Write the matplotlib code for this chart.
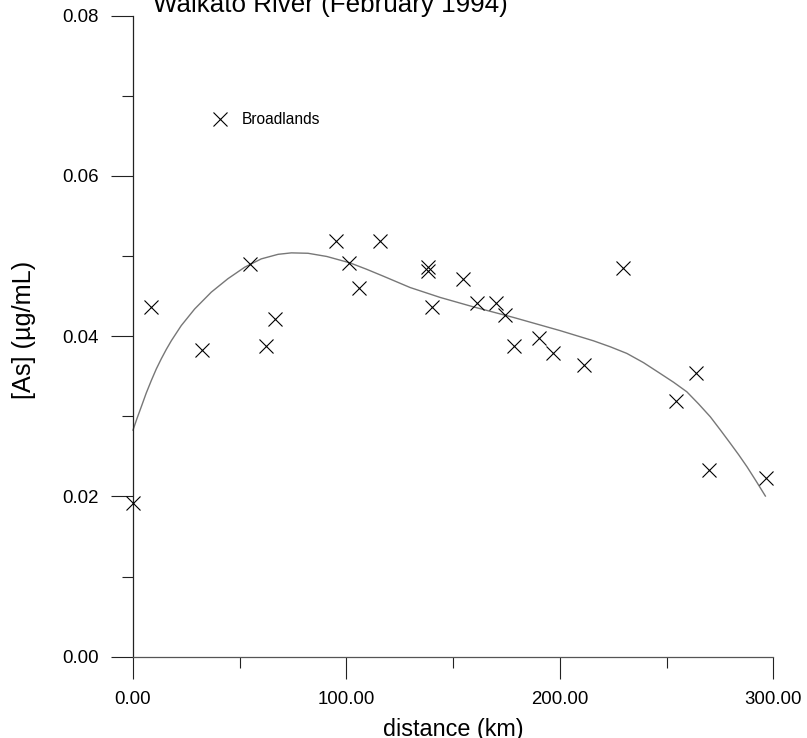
import matplotlib
matplotlib.use("Agg")
import matplotlib.pyplot as plt

plt.rcParams['font.family'] = ['Liberation Sans', 'DejaVu Sans']

# Sampling sites along the river: distance downstream (km) and arsenic concentration (ug/mL)
distance_km = [0.0, 8.4, 32.2, 54.8, 62.2, 66.4, 95.0, 101.1, 106.0, 115.9,
               138.0, 138.4, 140.3, 154.5, 161.1, 170.2, 174.1, 178.3, 190.3,
               197.0, 211.4, 229.4, 254.5, 263.8, 269.7, 296.6]
arsenic = [0.0192, 0.0436, 0.0383, 0.0490, 0.0388, 0.0422, 0.0519, 0.0491,
           0.0460, 0.0519, 0.0486, 0.0481, 0.0436, 0.0471, 0.0442, 0.0442,
           0.0427, 0.0388, 0.0398, 0.0379, 0.0364, 0.0485, 0.0319, 0.0354,
           0.0233, 0.0223]

# Smoothed trend line through the profile
trend_km = [0.0, 1.9, 3.9, 6.2, 8.6, 10.9, 13.3, 15.6, 18.0, 22.6, 28.9, 36.7,
            44.5, 52.4, 60.1, 68.0, 74.2, 82.0, 90.8, 101.7, 109.5, 117.3,
            129.8, 143.9, 159.5, 178.3, 200.2, 215.8, 223.6, 231.4, 239.2,
            247.0, 253.3, 259.5, 265.0, 270.5, 275.2, 279.9, 283.8, 287.7,
            292.0, 296.3]
trend_as = [0.02828, 0.02975, 0.03120, 0.03290, 0.03448, 0.03590, 0.03720,
            0.03835, 0.03945, 0.04132, 0.04340, 0.04550, 0.04718, 0.04862,
            0.04965, 0.05022, 0.05040, 0.05035, 0.04995, 0.04915, 0.04835,
            0.04749, 0.04608, 0.04484, 0.04366, 0.04234, 0.04069, 0.03942,
            0.03868, 0.03785, 0.03670, 0.03535, 0.03425, 0.03306, 0.03155,
            0.02994, 0.02830, 0.02662, 0.02520, 0.02370, 0.02190, 0.02005]

x_ticks = [0, 100, 200, 300]
x_minor = [50, 150, 250]
y_ticks = [0.00, 0.02, 0.04, 0.06, 0.08]
y_minor = [0.01, 0.03, 0.05, 0.07]

fig = plt.figure(figsize=(8.07, 7.38), dpi=100)
ax = fig.add_axes([0.1648, 0.1102, 0.9582 - 0.1648, 0.9787 - 0.1102])

ax.plot(trend_km, trend_as, color='#777777', lw=1.0, zorder=2, clip_on=False)
ax.plot(distance_km, arsenic, linestyle='none', marker='x', markersize=9.6,
        markeredgewidth=0.8, color='black', label='Broadlands', zorder=3,
        clip_on=False)

ax.set_xlim(0, 300)
ax.set_ylim(0, 0.08)
ax.set_xticks(x_ticks)
ax.set_xticks(x_minor, minor=True)
ax.set_yticks(y_ticks)
ax.set_yticks(y_minor, minor=True)
ax.set_xticklabels([f"{v:.2f}" for v in x_ticks], fontsize=13.4)
ax.set_yticklabels([f"{v:.2f}" for v in y_ticks], fontsize=13.4)

for s in ('top', 'right'):
    ax.spines[s].set_visible(False)
ax.spines['left'].set_color('#222222')
ax.spines['bottom'].set_color('#555555')
ax.spines['left'].set_linewidth(0.9)
ax.spines['bottom'].set_linewidth(0.9)

ax.tick_params(which='major', direction='out', length=15.5, width=0.8,
               color='#222222', pad=9)
ax.tick_params(which='minor', direction='out', length=7.7, width=0.8,
               color='#222222')

ax.set_xlabel('distance (km)', fontsize=16.8, labelpad=7.5)
ax.set_ylabel('[As] (\u00b5g/mL)', fontsize=18.2)
ax.yaxis.set_label_coords(-0.152, 0.51)

ax.legend(loc='center left', bbox_to_anchor=(212.0 / 807, 1 - 120.0 / 738),
          bbox_transform=fig.transFigure, frameon=False, fontsize=11.2,
          handlelength=1.0, handletextpad=0.9, borderpad=0, borderaxespad=0)

fig.text(330 / 807, 1 - 11.7 / 738, 'Waikato River (February 1994)',
         ha='center', va='baseline', fontsize=18.7)

fig.savefig('out.png', dpi=100)
